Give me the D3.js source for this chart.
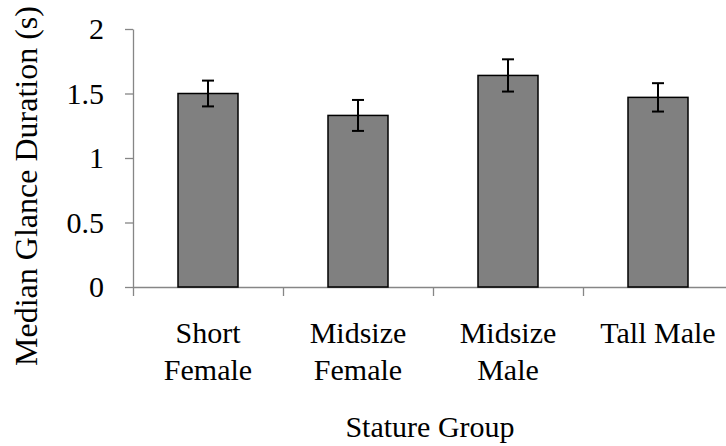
<!DOCTYPE html>
<html>
<head>
<meta charset="utf-8">
<script src="https://cdn.jsdelivr.net/npm/d3@7"></script>
<style>
  body { margin: 0; background: #fff; }
  svg { display: block; }
</style>
</head>
<body>
<svg id="chart" width="726" height="446" font-family="Liberation Serif, serif"></svg>
<script>
// chart data
const groups = [["Short", "Female"], ["Midsize", "Female"], ["Midsize", "Male"], ["Tall Male"]];
const medians = [1.50, 1.33, 1.64, 1.47];
const errors = [0.10, 0.12, 0.125, 0.11];
const yTicks = [0, 0.5, 1, 1.5, 2];

const serif = "Liberation Serif, serif";
const svg = d3.select("#chart");
const plotLeft = 133, plotRight = 733, plotTop = 29, plotBottom = 287;
const axisColor = "#868686";

const x = d3.scaleBand()
    .domain(d3.range(groups.length))
    .range([plotLeft, plotRight])
    .paddingInner(0.6)
    .paddingOuter(0.3);

// boundaries between categories, for the x tick marks
const xEdge = d3.scaleLinear().domain([0, groups.length]).range([plotLeft, plotRight]);

const y = d3.scaleLinear().domain([0, 2]).range([plotBottom, plotTop]);

// y axis
const yAxis = svg.append("g")
    .attr("transform", `translate(${plotLeft},0)`)
    .call(d3.axisLeft(y).tickValues(yTicks).tickFormat(d3.format("")).tickSize(8).tickSizeOuter(0).tickPadding(21))
    .attr("font-family", serif)
    .attr("font-size", 30);
yAxis.select(".domain").attr("stroke", axisColor).attr("stroke-width", 1.3);
yAxis.selectAll(".tick line").attr("stroke", axisColor).attr("stroke-width", 1.3);
yAxis.selectAll(".tick text").attr("fill", "#000");

// x axis line with ticks at the category edges
const xAxis = svg.append("g")
    .attr("transform", `translate(0,${plotBottom})`)
    .call(d3.axisBottom(xEdge).tickValues(d3.range(groups.length + 1)).tickFormat("").tickSize(9).tickSizeOuter(0));
xAxis.select(".domain").attr("stroke", axisColor).attr("stroke-width", 1.3);
xAxis.selectAll(".tick line").attr("stroke", axisColor).attr("stroke-width", 1.3);

// bars
svg.selectAll("rect.bar")
    .data(medians)
    .enter().append("rect")
    .attr("class", "bar")
    .attr("x", (d, i) => x(i))
    .attr("y", d => y(d))
    .attr("width", x.bandwidth())
    .attr("height", d => y(0) - y(d))
    .attr("fill", "#808080")
    .attr("stroke", "#000")
    .attr("stroke-width", 1.5);

// error bars
const err = svg.selectAll("g.err")
    .data(medians)
    .enter().append("g")
    .attr("class", "err")
    .attr("stroke", "#000")
    .attr("stroke-width", 2);
const cx = i => x(i) + x.bandwidth() / 2;
err.append("line")
    .attr("x1", (d, i) => cx(i)).attr("x2", (d, i) => cx(i))
    .attr("y1", (d, i) => y(d + errors[i])).attr("y2", (d, i) => y(d - errors[i]));
err.append("line")
    .attr("x1", (d, i) => cx(i) - 6).attr("x2", (d, i) => cx(i) + 6)
    .attr("y1", (d, i) => y(d + errors[i])).attr("y2", (d, i) => y(d + errors[i]));
err.append("line")
    .attr("x1", (d, i) => cx(i) - 6).attr("x2", (d, i) => cx(i) + 6)
    .attr("y1", (d, i) => y(d - errors[i])).attr("y2", (d, i) => y(d - errors[i]));

// category labels
const labels = svg.selectAll("text.cat")
    .data(groups)
    .enter().append("text")
    .attr("class", "cat")
    .attr("text-anchor", "middle")
    .attr("font-family", serif)
    .attr("font-size", 30);
labels.selectAll("tspan")
    .data((d, i) => d.map(line => ({ line, i })))
    .enter().append("tspan")
    .attr("x", d => xEdge(d.i + 0.5))
    .attr("y", (d, j) => plotBottom + 56 + j * 37)
    .text(d => d.line);

// axis titles
svg.append("text")
    .attr("x", 430)
    .attr("y", 437)
    .attr("text-anchor", "middle")
    .attr("font-family", serif)
    .attr("font-size", 30)
    .text("Stature Group");

svg.append("text")
    .attr("transform", `translate(37,${(plotTop + plotBottom) / 2 + 28}) rotate(-90)`)
    .attr("text-anchor", "middle")
    .attr("font-family", serif)
    .attr("font-size", 32)
    .text("Median Glance Duration (s)");
</script>
</body>
</html>
